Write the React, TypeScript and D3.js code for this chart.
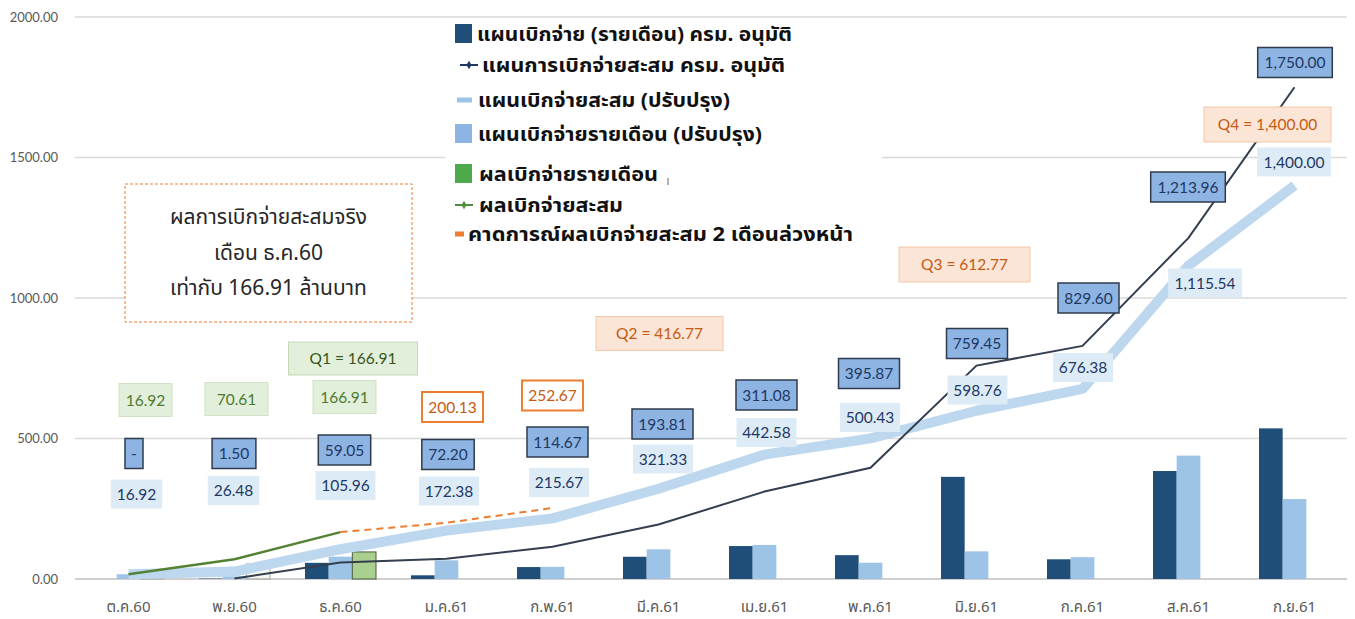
import React from 'react';
import * as d3 from 'd3';

// ---------- DATA ----------
const months = ['ต.ค.60', 'พ.ย.60', 'ธ.ค.60', 'ม.ค.61', 'ก.พ.61', 'มี.ค.61', 'เม.ย.61', 'พ.ค.61', 'มิ.ย.61', 'ก.ค.61', 'ส.ค.61', 'ก.ย.61'];
const yTicks = [0, 500, 1000, 1500, 2000];

// แผนเบิกจ่าย (รายเดือน) ครม. อนุมัติ
const cabinetMonthly = [0, 1.5, 57.55, 13.15, 42.47, 79.14, 117.27, 84.79, 363.58, 70.15, 384.36, 536.04];
// แผนการเบิกจ่ายสะสม ครม. อนุมัติ
const cabinetCumulative: (number | null)[] = [null, 1.5, 59.05, 72.2, 114.67, 193.81, 311.08, 395.87, 759.45, 829.6, 1213.96, 1750.0];
const cabinetCumLabels = ['-', '1.50', '59.05', '72.20', '114.67', '193.81', '311.08', '395.87', '759.45', '829.60', '1,213.96', '1,750.00'];
// แผนเบิกจ่ายรายเดือน (ปรับปรุง)
const revisedMonthly = [16.92, 9.56, 79.48, 66.42, 43.29, 105.66, 121.25, 57.85, 98.33, 77.62, 439.16, 284.46];
// แผนเบิกจ่ายสะสม (ปรับปรุง)
const revisedCumulative = [16.92, 26.48, 105.96, 172.38, 215.67, 321.33, 442.58, 500.43, 598.76, 676.38, 1115.54, 1400.0];
const revisedCumLabels = ['16.92', '26.48', '105.96', '172.38', '215.67', '321.33', '442.58', '500.43', '598.76', '676.38', '1,115.54', '1,400.00'];
// ผลเบิกจ่ายรายเดือน
const actualMonthly: (number | null)[] = [16.92, 53.69, 96.3, null, null, null, null, null, null, null, null, null];
// ผลเบิกจ่ายสะสม
const actualCumulative: (number | null)[] = [16.92, 70.61, 166.91, null, null, null, null, null, null, null, null, null];
const actualCumLabels = ['16.92', '70.61', '166.91'];
// คาดการณ์ผลเบิกจ่ายสะสม 2 เดือนล่วงหน้า
const forecastCumulative: (number | null)[] = [null, null, 166.91, 200.13, 252.67, null, null, null, null, null, null, null];
const forecastLabels = ['', '', '', '200.13', '252.67'];
const quarterLabels = ['Q1 = 166.91', 'Q2 = 416.77', 'Q3 = 612.77', 'Q4 = 1,400.00'];

const legendItems = [
  { kind: 'rect', color: '#1F4E79', text: 'แผนเบิกจ่าย (รายเดือน) ครม. อนุมัติ' },
  { kind: 'marker', color: '#203864', text: 'แผนการเบิกจ่ายสะสม ครม. อนุมัติ' },
  { kind: 'line', color: '#9DC3E6', text: 'แผนเบิกจ่ายสะสม (ปรับปรุง)' },
  { kind: 'rect', color: '#8DB4E2', text: 'แผนเบิกจ่ายรายเดือน (ปรับปรุง)' },
  { kind: 'rect', color: '#4EA94B', text: 'ผลเบิกจ่ายรายเดือน' },
  { kind: 'marker', color: '#4E8F3A', text: 'ผลเบิกจ่ายสะสม' },
  { kind: 'line', color: '#ED7D31', text: 'คาดการณ์ผลเบิกจ่ายสะสม 2 เดือนล่วงหน้า' },
];
const noteLines = ['ผลการเบิกจ่ายสะสมจริง', 'เดือน ธ.ค.60', 'เท่ากับ 166.91 ล้านบาท'];

// ---------- LAYOUT (pixel offsets of annotation boxes) ----------
const cabLabelPos = [[5.5, 453.5], [-0.5, 453.5], [4, 450], [1.5, 454.5], [5, 442], [4, 424], [2, 395], [-1.5, 373.5], [0.5, 343.5], [6, 298], [-0.5, 187], [0.5, 62.5]];
const revLabelPos = [[8, 494], [-1, 490.5], [5, 485.5], [2.5, 491], [6.5, 482.5], [4.5, 459], [2, 432.5], [-0.5, 417.5], [1, 390], [0.5, 367.5], [16.5, 283], [-0.5, 162]];
const actLabelPos = [[17, 400, 53], [2, 399, 63], [4, 397, 63]];
const fcLabelPos: Record<number, number[]> = { 3: [6, 407], 4: [0, 395.5] };
const qPos = [[353, 358.5, 129, 33], [659.5, 333.5, 127, 34], [964.5, 264.5, 131, 35], [1267.5, 124.5, 127, 35]];
const legendY = [34, 65, 100, 134, 174, 205, 234];
const legendTextX = [477, 482, 478, 478, 479, 479, 468];
const legendTextW = [315, 303, 252, 284, 179, 144, 385];

const W = 1355;
const H = 619;
const NUM_FONT = "Lato, Carlito, Calibri, 'Open Sans', sans-serif";
const THAI_FONT = "Tahoma, 'Noto Sans Thai', 'Noto Sans Thai UI', 'Noto Sans', 'DejaVu Sans', sans-serif";

function textW(s: string) {
  let w = 0;
  for (const c of s) w += /[0-9]/.test(c) ? 8.6 : 5;
  return w;
}

export default function App() {
  const x = d3.scaleBand<string>().domain(months).range([75.5, 1347.5]).padding(0);
  const x1 = d3.scaleBand<string>().domain(['c', 'r', 'a']).range([17.5, 88.5]).padding(0);
  const y = d3.scaleLinear().domain([0, 2000]).range([579, 17]);
  const cx = (i: number) => (x(months[i]) as number) + x.bandwidth() / 2;
  const bw = x1.bandwidth();

  const lineGen = d3
    .line<number | null>()
    .defined((d) => d !== null)
    .x((_, i) => cx(i))
    .y((d) => y(d as number));

  const box = (key: string, cxp: number, cyp: number, w: number, h: number, text: string, fill: string, stroke: string, sw: number, color: string) => (
    <g key={key}>
      <rect x={cxp - w / 2} y={cyp - h / 2} width={w} height={h} fill={fill} stroke={stroke} strokeWidth={sw} />
      <text x={cxp} y={cyp} dy="0.36em" textAnchor="middle" fontFamily={NUM_FONT} fontSize={15.5} fill={color}>
        {text}
      </text>
    </g>
  );

  return (
    <svg width={W} height={H} style={{ position: 'absolute', left: 0, top: 0, background: '#fff' }}>
      {/* gridlines */}
      {yTicks.map((t) => (
        <g key={t}>
          <line x1={75} x2={1347} y1={y(t)} y2={y(t)} stroke={t === 0 ? '#BFBFBF' : '#D9D9D9'} strokeWidth={1.3} />
          <text x={58} y={y(t)} dy="0.35em" textAnchor="end" fontFamily={NUM_FONT} fontSize={13} fill="#595959">
            {t.toFixed(2)}
          </text>
        </g>
      ))}
      {/* x labels */}
      {months.map((m, i) => (
        <text key={m} x={cx(i)} y={607} dy="0.35em" textAnchor="middle" fontFamily={THAI_FONT} fontSize={15} fill="#595959">
          {m}
        </text>
      ))}

      {/* bars */}
      {months.map((m, i) => {
        const bx = x(m) as number;
        return (
          <g key={'b' + m}>
            {cabinetMonthly[i] > 0 && (
              <rect x={bx + (x1('c') as number)} y={y(cabinetMonthly[i])} width={bw} height={y(0) - y(cabinetMonthly[i])} fill="#1F4E79" />
            )}
            <rect x={bx + (x1('r') as number)} y={y(revisedMonthly[i])} width={bw} height={y(0) - y(revisedMonthly[i])} fill="#9DC3E6" />
            {actualMonthly[i] !== null && (
              <rect
                x={bx + (x1('a') as number)}
                y={y(actualMonthly[i] as number)}
                width={bw}
                height={y(0) - y(actualMonthly[i] as number)}
                fill={i === 2 ? '#A9D08E' : i === 1 ? 'rgba(226,239,218,0.4)' : '#C9E0B8'}
                stroke={i === 2 ? '#4A5A3E' : '#A6A6A6'}
                strokeWidth={1}
              />
            )}
          </g>
        );
      })}

      {/* lines */}
      <path d={lineGen(revisedCumulative) || ''} fill="none" stroke="#BDD7EE" strokeWidth={10} strokeLinejoin="round" />
      <path d={lineGen(cabinetCumulative) || ''} fill="none" stroke="#333F4F" strokeWidth={2} />
      <path d={lineGen(actualCumulative) || ''} fill="none" stroke="#548235" strokeWidth={2.5} />
      <path d={lineGen(forecastCumulative) || ''} fill="none" stroke="#ED7D31" strokeWidth={2} strokeDasharray="7,5" />

      {/* revised cumulative labels */}
      {revisedCumLabels.map((t, i) =>
        box('rv' + i, cx(i) + revLabelPos[i][0], revLabelPos[i][1], textW(t) + 12, 29, t, '#DDEBF7', 'none', 0, '#1F3864')
      )}
      {/* cabinet cumulative labels */}
      {cabinetCumLabels.map((t, i) =>
        box('cb' + i, cx(i) + cabLabelPos[i][0], cabLabelPos[i][1], textW(t) + 13, 30, t, '#8DB4E2', '#2F3B4C', 1.5, '#1F3864')
      )}
      {/* actual cumulative labels */}
      {actualCumLabels.map((t, i) =>
        box('ac' + i, cx(i) + actLabelPos[i][0], actLabelPos[i][1], actLabelPos[i][2], 33, t, '#E2EFDA', '#D0E2C4', 1, '#4E7A32')
      )}
      {/* forecast labels */}
      {forecastLabels.map((t, i) =>
        t ? box('fc' + i, cx(i) + fcLabelPos[i][0], fcLabelPos[i][1], 61, 30, t, '#FFFFFF', '#ED7D31', 2, '#C55A11') : null
      )}
      {/* quarter labels */}
      {quarterLabels.map((t, i) =>
        box(
          'q' + i,
          qPos[i][0],
          qPos[i][1],
          qPos[i][2],
          qPos[i][3],
          t,
          i === 0 ? '#E2EFDA' : '#FBE5D6',
          i === 0 ? '#C5D9B5' : '#F4C7A8',
          1,
          i === 0 ? '#375623' : '#C55A11'
        )
      )}

      {/* note box */}
      <rect x={125} y={184} width={287} height={138} fill="#fff" stroke="#ED7D31" strokeWidth={1} strokeDasharray="3,2" />
      {noteLines.map((t, i) => (
        <text key={'n' + i} x={268.5} y={217 + i * 35.5} dy="0.35em" textAnchor="middle" fontFamily={THAI_FONT} fontSize={21} fill="#262626">
          {t}
        </text>
      ))}

      {/* legend */}
      <rect x={445} y={18} width={437} height={234} fill="#fff" />
      {legendItems.map((it, i) => {
        const yy = legendY[i];
        return (
          <g key={'lg' + i}>
            {it.kind === 'rect' && <rect x={455} y={yy - 10} width={17} height={19} fill={it.color} />}
            {it.kind === 'line' && (
              <line x1={i === 6 ? 455 : 457} x2={i === 6 ? 464 : 472} y1={yy} y2={yy} stroke={it.color} strokeWidth={5} />
            )}
            {it.kind === 'marker' && (
              <g>
                <line x1={i === 1 ? 460 : 455} x2={i === 1 ? 478 : 473} y1={yy} y2={yy} stroke={it.color} strokeWidth={2} />
                <path
                  d={d3.symbol(d3.symbolDiamond, 22)() || ''}
                  transform={`translate(${i === 1 ? 469 : 464},${yy})`}
                  fill={it.color}
                />
              </g>
            )}
            <text
              x={legendTextX[i]}
              y={yy}
              dy="0.35em"
              fontFamily={THAI_FONT}
              fontWeight="bold"
              fontSize={19.5}
              fill="#111"
              textLength={legendTextW[i]}
              lengthAdjust="spacingAndGlyphs"
            >
              {it.text}
            </text>
          </g>
        );
      })}
      <line x1={668} x2={668} y1={178} y2={185} stroke="#666" strokeWidth={1} />
    </svg>
  );
}
